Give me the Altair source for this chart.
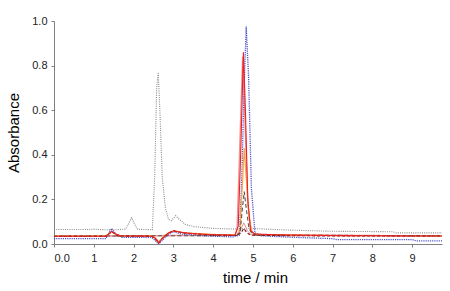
import altair as alt
import pandas as pd

# ---- data ----
gray_t = [0, 0.9, 1.0, 1.1, 1.5, 1.8, 1.87, 1.95, 2.02, 2.1, 2.47, 2.53, 2.58, 2.62, 2.66, 2.72, 2.8, 2.88, 2.95, 3.06, 3.15, 3.3, 3.5, 4.0, 4.5, 5.0, 5.5, 6.0, 7.0, 8.5, 8.6, 9.8]
gray_v = [0.065, 0.065, 0.067, 0.065, 0.063, 0.067, 0.09, 0.118, 0.09, 0.066, 0.064, 0.3, 0.7, 0.77, 0.6, 0.3, 0.16, 0.11, 0.105, 0.127, 0.11, 0.088, 0.078, 0.07, 0.067, 0.07, 0.065, 0.062, 0.057, 0.055, 0.05, 0.05]

blue_t = [0, 1.3, 1.38, 1.45, 1.55, 1.7, 2.45, 2.55, 2.62, 2.7, 2.85, 3.0, 3.2, 3.6, 4.0, 4.5, 4.66, 4.72, 4.78, 4.83, 4.89, 4.96, 5.05, 5.2, 5.5, 6.0, 6.5, 7.0, 7.1, 9.0, 9.1, 9.8]
blue_v = [0.024, 0.024, 0.05, 0.07, 0.045, 0.03, 0.03, 0.015, 0.0, 0.012, 0.04, 0.055, 0.045, 0.038, 0.035, 0.032, 0.04, 0.3, 0.72, 0.975, 0.75, 0.25, 0.05, 0.037, 0.034, 0.03, 0.027, 0.024, 0.02, 0.02, 0.014, 0.014]

salmon_t = [0, 4.55, 4.6, 4.66, 4.74, 4.8, 4.87, 4.95, 5.05, 9.8]
salmon_v = [0.035, 0.04, 0.07, 0.4, 0.84, 0.55, 0.18, 0.06, 0.042, 0.036]

red_t = [0, 1.3, 1.38, 1.45, 1.55, 1.7, 2.45, 2.55, 2.63, 2.72, 2.88, 3.02, 3.2, 3.6, 4.0, 4.55, 4.63, 4.69, 4.76, 4.81, 4.87, 4.94, 5.05, 5.5, 6.0, 7.0, 8.0, 9.0, 9.8]
red_v = [0.035, 0.035, 0.045, 0.057, 0.045, 0.036, 0.035, 0.025, 0.005, 0.025, 0.05, 0.06, 0.052, 0.045, 0.042, 0.04, 0.08, 0.4, 0.86, 0.6, 0.2, 0.06, 0.045, 0.042, 0.04, 0.038, 0.037, 0.036, 0.036]

darkred_t = [0, 1.3, 1.45, 1.6, 2.45, 2.55, 2.63, 2.72, 2.88, 3.02, 3.3, 4.0, 4.6, 4.7, 4.77, 4.85, 4.95, 5.5, 7.0, 9.8]
darkred_v = [0.034, 0.034, 0.055, 0.036, 0.034, 0.022, 0.004, 0.024, 0.05, 0.058, 0.048, 0.04, 0.038, 0.05, 0.07, 0.05, 0.04, 0.038, 0.036, 0.036]

orange_t = [0, 1.3, 1.45, 1.6, 2.45, 2.55, 2.63, 2.72, 2.88, 3.02, 3.3, 4.0, 4.6, 4.68, 4.73, 4.78, 4.83, 4.9, 4.98, 5.1, 6.0, 7.0, 9.8]
orange_v = [0.037, 0.037, 0.055, 0.038, 0.037, 0.027, 0.01, 0.027, 0.05, 0.058, 0.05, 0.043, 0.04, 0.07, 0.25, 0.43, 0.3, 0.12, 0.05, 0.042, 0.04, 0.038, 0.037]

dgray_t = [0, 4.6, 4.68, 4.73, 4.78, 4.83, 4.9, 4.98, 5.1, 9.8]
dgray_v = [0.035, 0.038, 0.06, 0.15, 0.235, 0.16, 0.07, 0.045, 0.04, 0.037]

pink_t = [0, 4.6, 4.68, 4.77, 4.86, 4.95, 5.05, 9.8]
pink_v = [0.035, 0.038, 0.06, 0.095, 0.06, 0.042, 0.038, 0.036]

series = [
    ("gray", gray_t, gray_v, "#8a8a8a", [1, 1.2], 1.1),
    ("pink", pink_t, pink_v, "#e58a8a", [1, 0], 1.0),
    ("salmon", salmon_t, salmon_v, "#f4928c", [1, 0], 1.3),
    ("blue", blue_t, blue_v, "#4f55c8", [1.2, 1], 1.3),
    ("orange", orange_t, orange_v, "#ffa53a", [1, 0], 1.2),
    ("dgray", dgray_t, dgray_v, "#555555", [4, 2.5], 1.1),
    ("darkred", darkred_t, darkred_v, "#7a1414", [3, 2], 1.1),
    ("red", red_t, red_v, "#e8202a", [1, 0], 1.1),
]

x_scale = alt.Scale(domain=[0, 9.75], nice=False, zero=False, clamp=True)
y_scale = alt.Scale(domain=[0, 1.0], nice=False)

x_axis = alt.Axis(
    title="time / min", values=list(range(0, 10)), grid=False,
    labelExpr="datum.value == 0 ? '0.0' : format(datum.value, 'd')",
    tickSize=3, labelPadding=5, domainColor="#808080", tickColor="#808080",
    labelFontSize=11, labelColor="#222222", labelFont="Liberation Sans",
    titleFontSize=15, titleFont="Liberation Sans", titleFontWeight="normal",
    titleColor="#000000", titleX=201, titleY=26, titleBaseline="top",
)
y_axis = alt.Axis(
    title="Absorbance", values=[0, 0.2, 0.4, 0.6, 0.8, 1.0], format=".1f", grid=False,
    tickSize=3, labelPadding=4, domainColor="#808080", tickColor="#808080",
    labelFontSize=11, labelColor="#222222", labelFont="Liberation Sans",
    titleFontSize=15, titleFont="Liberation Sans", titleFontWeight="normal",
    titleColor="#000000", titlePadding=10,
)

layers = []
for name, t, v, color, dash, w in series:
    df = pd.DataFrame({"t": t, "v": v})
    layers.append(
        alt.Chart(df).mark_line(color=color, strokeDash=dash, strokeWidth=w, clip=True).encode(
            x=alt.X("t:Q", scale=x_scale, axis=x_axis),
            y=alt.Y("v:Q", scale=y_scale, axis=y_axis),
        )
    )

chart = alt.layer(*layers).properties(
    width=388, height=223,
    autosize=alt.AutoSizeParams(type="none"),
    padding={"left": 54, "top": 21, "right": 8, "bottom": 47},
    background="white",
).configure_view(stroke=None)

chart.save("out.html", embed_options={"renderer": "svg", "actions": False})
